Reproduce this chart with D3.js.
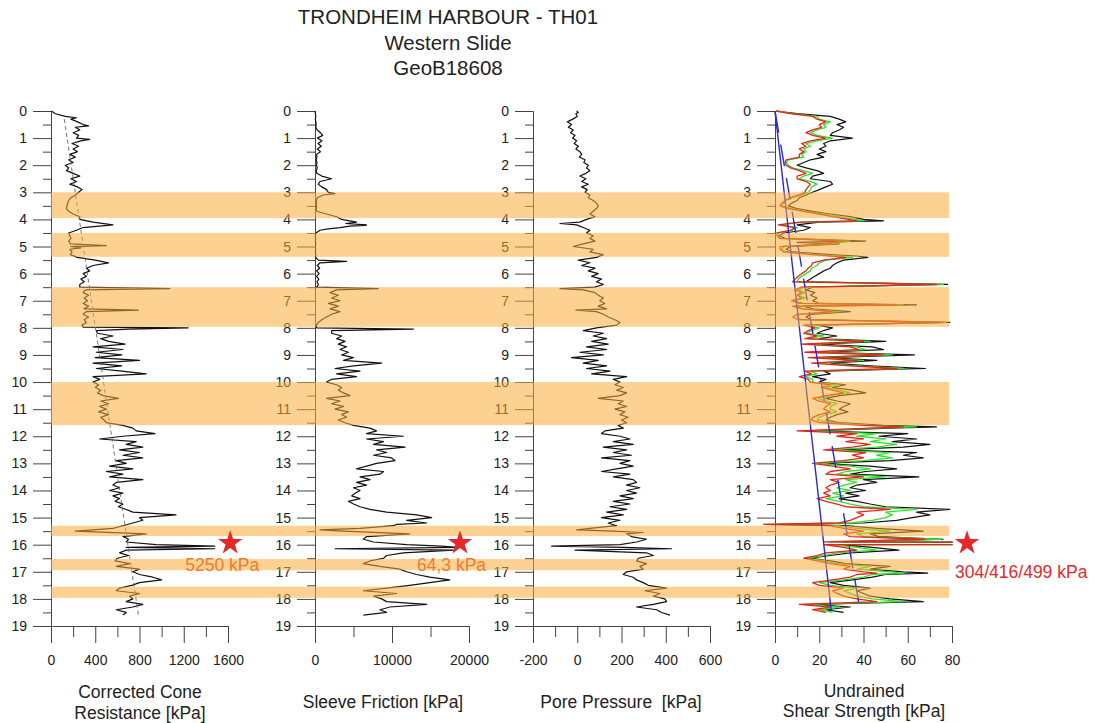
<!DOCTYPE html>
<html lang="en">
<head>
<meta charset="UTF-8">
<title>Trondheim Harbour TH01</title>
<script src="https://d3js.org/d3.v7.min.js"></script>
<style>
  body { margin: 0; background: #fff; }
  text { font-family: "Liberation Sans", Arial, sans-serif; fill: #222; }
</style>
</head>
<body>
<div id="chart"></div>
<script>
const width = 1093;
const height = 723;

// depth grid of the profiles (m), values below are read every 0.1 m
const depthStep = 0.1;
const depthTicks = d3.range(0, 20);
const depthMinorTicks = d3.range(0.5, 19, 1);

// shaded layers (m)
const bandTops = [3.0, 4.5, 6.5, 10.0, 15.3, 16.53, 17.55];
const bandBottoms = [3.95, 5.38, 7.96, 11.59, 15.68, 16.94, 17.96];

// corrected cone resistance qt [kPa]
const qtValues = [
  5, 40, 130, 180, 240, 290, 220, 260, 200, 250,
  230, 270, 190, 250, 200, 240, 170, 220, 160, 200,
  130, 160, 140, 200, 260, 180, 230, 170, 240, 280,
  250, 220, 180, 160, 150, 145, 140, 160, 200, 260,
  260, 380, 560, 290, 230, 160, 170, 180, 160, 175,
  180, 170, 190, 175, 240, 400, 520, 380, 320, 350,
  290, 320, 270, 300, 260, 260, 310, 290, 340, 300,
  330, 290, 340, 300, 320, 290, 340, 300, 320, 280,
  1240, 410, 420, 560, 450, 520, 670, 380, 650, 410,
  640, 400, 800, 380, 640, 410, 640, 860, 380, 440,
  380, 430, 400, 450, 420, 470, 610, 450, 520, 440,
  500, 430, 520, 450, 480, 500, 650, 740, 770, 940,
  650, 440, 770, 680, 830, 620, 800, 650, 830, 590,
  680, 530, 740, 500, 650, 530, 830, 590, 560, 620,
  530, 650, 560, 620, 580, 650, 610, 680, 740, 1130,
  800, 830, 740, 650, 560, 220, 860, 650, 700, 680,
  950, 680, 680, 620, 700, 600, 580, 710, 590, 800,
  740, 800, 920, 1000, 800, 730, 620, 590, 800, 710,
  740, 680, 830, 740, 590, 680, 650
];
const qtSpikes = [[0.25, 230], [0.55, 340], [1.05, 350], [4.97, 500], [5.05, 270], [6.55, 1075],
  [7.35, 790], [7.97, 290], [8.05, 700], [16.05, 1480], [16.15, 1480]];
const qtTrendValues = [120, 790];
const qtTrendDepths = [0.3, 18.6];

// sleeve friction fs [kPa]
const fsValues = [
  0, 50, 100, 50, 100, 150, 100, 300, 700, 1000,
  300, 900, 400, 800, 300, 700, 200, 250, 150, 250,
  200, 300, 150, 250, 870, 2150, 650, 430, 870, 1500,
  1730, 1080, 300, 200, 150, 200, 150, 200, 1500, 2800,
  3460, 5400, 6700, 3250, 650, 130, 50, 80, 50, 100,
  50, 80, 50, 100, 80, 430, 650, 300, 600, 200,
  550, 200, 500, 250, 450, 200, 2800, 1950, 3030, 2160,
  3250, 1730, 3030, 1950, 3250, 2160, 1500, 870, 430, 200,
  200, 2160, 2160, 3460, 2800, 3900, 3030, 4100, 3250, 4330,
  3460, 5000, 3700, 8660, 5000, 2600, 5850, 2800, 5400, 2160,
  1500, 2800, 3460, 3030, 3700, 4550, 1500, 3250, 2160, 3700,
  2600, 4330, 3460, 4100, 3030, 3900, 5000, 7150, 8000, 6700,
  11470, 6700, 8900, 7600, 11700, 8000, 9300, 7600, 9960, 10400,
  8000, 6700, 5400, 8900, 8440, 5850, 7150, 5400, 6700, 5000,
  5850, 5200, 4760, 5850, 4330, 5000, 5850, 7150, 9300, 13200,
  15150, 11900, 14500, 10200, 5850, 3700, 12300, 6700, 6280, 7600,
  11900, 18400, 18000, 11470, 9300, 8900, 7150, 6280, 8440, 11000,
  11900, 13200, 14900, 17500, 14900, 12300, 9300, 6280, 10600, 7600,
  8660, 9300, 14500, 9740, 8440, 9300, 6280
];
const fsSpikes = [[3.05, 2600], [4.15, 4000], [4.22, 6500], [4.25, 4500], [4.35, 1700], [5.55, 4100],
  [6.55, 8200], [8.05, 12770], [15.25, 10600], [15.45, 650], [16.05, 16450], [16.15, 2600]];

// pore pressure u2 [kPa]
const u2Values = [
  -3, -6, 0, -20, -45, -26, -40, -18, -30, -10,
  -21, -3, -14, 5, -6, 12, 20, 9, 35, 30,
  50, 42, 57, 39, 12, 39, 20, 50, 20, 45,
  35, 57, 50, 72, 87, 95, 87, 72, 57, 80,
  42, 12, -3, 27, 57, 42, 72, 57, 80, 27,
  -18, 72, 57, 118, 87, 5, 57, 20, 80, 50,
  95, 65, 110, 87, 118, 80, 27, 80, 95, 118,
  102, 125, 95, 133, 87, 118, 140, 170, 193, 178,
  87, 27, 118, 72, 133, 65, 140, 42, 133, 12,
  118, -26, 95, 27, 133, 42, 148, 65, 223, 163,
  193, 170, 208, 178, 223, 193, 95, 208, 185, 223,
  170, 215, 193, 230, 200, 223, 185, 208, 125, 110,
  193, 238, 163, 253, 118, 223, 163, 245, 110, 238,
  193, 253, 178, 110, 238, 163, 253, 268, 223, 283,
  223, 268, 193, 253, 163, 238, 148, 223, 133, 208,
  110, 193, 140, 178, 57, 163, 223, 245, 313, 268,
  193, 208, -10, 313, 344, 276, 268, 313, 283, 298,
  223, 208, 253, 268, 298, 321, 404, 306, 374, 344,
  396, 404, 344, 268, 359, 381, 419
];
const u2Spikes = [[0.05, 5], [4.15, -78], [6.55, -78], [7.35, -6], [15.45, -3], [15.55, 298],
  [16.05, -116], [16.15, 426]];

// undrained shear strength su [kPa], three cone factors
const suBlackValues = [
  0.5, 10, 25, 29, 32, 28, 31, 29, 26, 25,
  35, 25, 22, 23, 20, 23, 19, 22, 16, 13,
  10, 14, 19, 22, 17, 16, 25, 26, 23, 20,
  17, 14, 11, 10, 7.5, 6, 10, 17, 25, 34,
  40, 20, 10, 16, 13, 4, 2, 4.5, 41, 29,
  7, 5, 8, 25, 42, 31, 28, 26, 25, 22,
  20, 18, 16, 14, 78, 17, 14, 18, 16, 19,
  17, 20, 13, 17, 34, 16, 14, 16.5, 79, 19,
  26, 22, 19, 28, 20, 50, 19, 44, 49, 22,
  63, 23, 46, 25, 43, 68, 22, 25, 17, 23,
  20, 32, 26, 35, 41, 29, 23, 28, 34, 31,
  29, 33, 28, 25, 23, 29, 49, 52, 17, 60,
  47, 64, 53, 70, 58, 29, 64, 58, 67, 52,
  20, 43, 55, 41, 34, 65, 40, 46, 37, 34,
  41, 32, 38, 29, 37, 43, 50, 79, 64, 70,
  62, 55, 40, 32, 46, 67, 43, 47, 76, 31,
  29, 44, 56, 34, 25, 16, 25, 32, 52, 43,
  58, 50, 44, 35, 25, 31, 43, 37, 40, 43,
  52, 67, 17, 34, 23, 31
];
const suBlackSpikes = [[4.05, 49], [4.85, 10], [5.35, 37], [7.15, 64], [11.65, 73], [15.25, 2],
  [15.95, 499], [17.05, 69]];

const suGreenValues = [
  0.5, 8, 19, 20, 25, 22, 23, 19, 16, 19,
  26, 19, 14, 16, 13, 14, 12, 13, 6, 5,
  6, 8, 13, 17, 13, 11, 16, 19, 16.5, 16,
  15, 12, 8, 5, 4, 3, 7.5, 14, 22, 29,
  36, 13, 2.3, 10, 8, 1.5, 1.5, 2.3, 34, 25,
  4, 3, 5, 19, 35, 23, 20, 19, 16.5, 16,
  14, 12, 10.5, 10, 76, 13.5, 10.5, 13.5, 10.5, 14,
  8.5, 13, 9, 13, 29, 11, 10, 12, 77, 14,
  20, 16.5, 14, 22, 15, 43, 14, 37, 41, 16,
  53, 17, 40, 19, 37, 58, 16, 19, 13.5, 17,
  17, 28, 23, 29, 34, 25, 19.5, 23, 28, 25,
  25, 28, 23, 20, 19, 25, 43, 46, 14, 46,
  37, 50, 43, 55, 46, 25, 52, 46, 53, 40,
  19, 34, 43, 32, 28, 50, 32, 37, 31, 28,
  34, 26, 31, 23, 29, 34, 40, 64, 50, 53,
  50, 44, 34, 28, 37, 52, 37, 40, 75, 25,
  25, 37, 46, 28, 22, 14, 22, 28, 43, 37,
  52, 44, 40, 31, 20, 25, 37, 31, 34, 37,
  44, 58, 14, 29, 20, 26
];
const suGreenSpikes = [[4.05, 40], [7.15, 58], [11.65, 64], [15.25, -5], [15.95, 416], [17.05, 58]];

const suRedValues = [
  0.5, 7, 17, 19, 23, 20, 21, 17, 14, 17,
  23, 16, 12, 14, 11, 13, 11, 11, 5, 4.5,
  5, 7, 11, 14, 10, 10, 14, 16, 15, 14,
  13.5, 10.5, 7, 4.5, 3, 2.3, 6, 13, 20, 26,
  33, 11, 1.5, 9, 7, 0.8, 1, 2, 31, 22,
  2.3, 2.3, 4, 17, 32, 22, 17, 16.5, 15, 14,
  12, 10.5, 9, 8, 73, 12, 9, 12, 10, 12,
  7.5, 11, 8, 12, 26, 10, 8, 10.5, 76, 13,
  18, 15, 13, 19, 13.5, 40, 12, 34, 38, 13.5,
  49, 15, 37, 16.5, 34, 55, 13.5, 16.5, 11, 15,
  16, 25, 21, 26, 31, 23, 17, 20, 25, 23,
  22, 25, 20, 17, 16.5, 20, 40, 43, 10, 37,
  28, 40, 32, 43, 35, 22, 41, 35, 40, 31,
  17, 26, 34, 25, 23, 40, 25, 29, 25, 23,
  25, 22, 25, 19, 23, 28, 32, 52, 37, 40,
  37, 34, 29, 25, 31, 40, 31, 34, 68, 22,
  22, 31, 37, 23, 19, 13, 19, 25, 34, 31,
  40, 37, 34, 26, 17, 20, 31, 26, 28, 31,
  37, 46, 11, 25, 17, 23
];
const suRedSpikes = [[4.05, 37], [7.15, 55], [11.65, 58], [15.25, -5], [15.95, 304], [17.05, 46]];

// straight reference lines in the shear strength panel
const suTrendEndValues = [25.4, 38.4];
const suTrendEndDepths = [18.42, 18.4];

// peak values marked with stars
const starValues = [1620, 18830, 86.8];
const starDepth = 15.94;
const starLabels = ["5250 kPa", "64,3 kPa", "304/416/499 kPa"];

const titleLines = ["TRONDHEIM HARBOUR - TH01", "Western Slide", "GeoB18608"];

const svg = d3.select("#chart")
  .append("svg")
  .attr("width", width)
  .attr("height", height)
  .style("display", "block");

const y = d3.scaleLinear().domain([0, 19]).range([111, 626]);

function toProfile(values, spikes) {
  const pts = values.map((v, i) => ({ depth: +(i * depthStep).toFixed(2), value: v }));
  spikes.forEach(s => pts.push({ depth: s[0], value: s[1] }));
  return pts.sort((a, b) => a.depth - b.depth);
}

// plain labels with a hyphen for negatives, no thousands separator
const plainFormat = d => String(d);

const panels = [
  { range: [51, 228], domain: [0, 1600], major: [0, 400, 800, 1200, 1600], minor: [200, 600, 1000, 1400],
    title: ["Corrected Cone", "Resistance [kPa]"], titleX: 140, titleY: [698, 719],
    star: 0, labelDx: -45, labelY: 571, labelColor: "#F27A2E" },
  { range: [315, 469], domain: [0, 20000], major: [0, 10000, 20000], minor: [5000, 15000],
    title: ["Sleeve Friction [kPa]"], titleX: 383, titleY: [708],
    star: 1, labelDx: -43, labelY: 571, labelColor: "#F27A2E" },
  { range: [533, 710], domain: [-200, 600], major: [-200, 0, 200, 400, 600], minor: [-100, 100, 300, 500],
    title: ["Pore Pressure  [kPa]"], titleX: 621, titleY: [708] },
  { range: [775, 952], domain: [0, 80], major: [0, 20, 40, 60, 80], minor: [10, 30, 50, 70],
    title: ["Undrained", "Shear Strength [kPa]"], titleX: 864, titleY: [697, 717],
    star: 2, labelDx: -12, labelY: 578, labelColor: "#E5282A" }
];
panels.forEach(p => { p.x = d3.scaleLinear().domain(p.domain).range(p.range); });

const axisColor = "#444";
const axesLayer = svg.append("g");
const curveLayer = svg.append("g");
const bandLayer = svg.append("g");
const markLayer = svg.append("g");

// axes
panels.forEach(p => {
  const g = axesLayer.append("g").attr("transform", `translate(${p.range[0]},0)`);
  g.append("g").call(d3.axisLeft(y).tickValues(depthTicks).tickSize(18).tickSizeOuter(0).tickPadding(6).tickFormat(plainFormat));
  g.append("g").call(d3.axisLeft(y).tickValues(depthMinorTicks).tickSize(8).tickSizeOuter(0).tickFormat(""));

  const gx = axesLayer.append("g").attr("transform", `translate(0,${y(19)})`);
  gx.append("g").call(d3.axisBottom(p.x).tickValues(p.major).tickSize(17).tickSizeOuter(0).tickPadding(12).tickFormat(plainFormat));
  gx.append("g").call(d3.axisBottom(p.x).tickValues(p.minor).tickSize(11).tickSizeOuter(0).tickFormat(""));

  p.title.forEach((t, i) => {
    axesLayer.append("text")
      .attr("x", p.titleX)
      .attr("y", p.titleY[i])
      .attr("text-anchor", "middle")
      .style("font-size", "17.5px")
      .style("white-space", "pre")
      .text(t);
  });
});
axesLayer.selectAll(".domain, .tick line").attr("stroke", axisColor);
axesLayer.selectAll(".tick text").style("font-size", "14px").style("font-family", "'Liberation Sans', Arial, sans-serif").attr("fill", "#222");

// curves
function drawProfile(p, data, color, width, clip) {
  const line = d3.line().x(d => p.x(d.value)).y(d => y(d.depth));
  curveLayer.append("path")
    .datum(data)
    .attr("fill", "none")
    .attr("stroke", color)
    .attr("stroke-width", width)
    .attr("stroke-linejoin", "round")
    .attr("clip-path", clip || null)
    .attr("d", line);
}

svg.append("clipPath").attr("id", "su-clip")
  .append("rect").attr("x", 700).attr("y", 0).attr("width", 952.5 - 700).attr("height", height);

drawProfile(panels[0], toProfile(qtValues, qtSpikes), "#111", 1.2);
curveLayer.append("path")
  .datum(qtTrendValues.map((v, i) => ({ value: v, depth: qtTrendDepths[i] })))
  .attr("fill", "none")
  .attr("stroke", "#666")
  .attr("stroke-width", 0.9)
  .attr("stroke-dasharray", "4,3")
  .attr("d", d3.line().x(d => panels[0].x(d.value)).y(d => y(d.depth)));

drawProfile(panels[1], toProfile(fsValues, fsSpikes), "#111", 1.2);
drawProfile(panels[2], toProfile(u2Values, u2Spikes), "#111", 1.2);

drawProfile(panels[3], toProfile(suBlackValues, suBlackSpikes), "#111", 1.2, "url(#su-clip)");
drawProfile(panels[3], toProfile(suGreenValues, suGreenSpikes), "#2FE02A", 1.3, "url(#su-clip)");
drawProfile(panels[3], toProfile(suRedValues, suRedSpikes), "#E8231C", 1.3, "url(#su-clip)");

suTrendEndValues.forEach((v, i) => {
  curveLayer.append("line")
    .attr("x1", panels[3].x(0))
    .attr("y1", y(0))
    .attr("x2", panels[3].x(v))
    .attr("y2", y(suTrendEndDepths[i]))
    .attr("stroke", "#2828D8")
    .attr("stroke-width", 1.4)
    .attr("stroke-dasharray", i === 1 ? "22,12" : null);
});

// layers
bandLayer.selectAll("rect")
  .data(bandTops)
  .enter()
  .append("rect")
  .attr("x", panels[0].range[0])
  .attr("width", 949 - panels[0].range[0])
  .attr("y", d => y(d))
  .attr("height", (d, i) => y(bandBottoms[i]) - y(d))
  .attr("fill", "#F9AC36")
  .attr("fill-opacity", 0.55);

// stars and labels
const star = d3.symbol().type(d3.symbolStar).size(185);
panels.filter(p => p.star !== undefined).forEach(p => {
  const sx = p.x(starValues[p.star]);
  const sy = y(starDepth);
  markLayer.append("path")
    .attr("d", star)
    .attr("transform", `translate(${sx},${sy})`)
    .attr("fill", "#E5282A");
  markLayer.append("text")
    .attr("x", sx + p.labelDx)
    .attr("y", p.labelY)
    .style("font-size", "17.5px")
    .style("fill", p.labelColor)
    .text(starLabels[p.star]);
});

// title
svg.append("g").selectAll("text")
  .data(titleLines)
  .enter()
  .append("text")
  .attr("x", 448)
  .attr("y", (d, i) => 24 + i * 25.5)
  .attr("text-anchor", "middle")
  .style("font-size", "20.5px")
  .text(d => d);
</script>
</body>
</html>
